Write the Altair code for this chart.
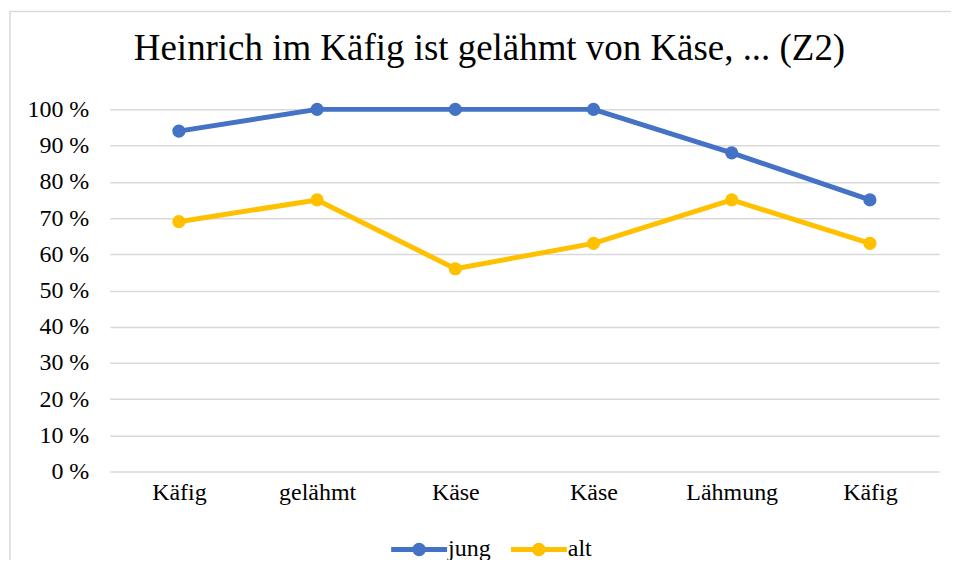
import json
import altair as alt
import pandas as pd

categories = ["Käfig", "gelähmt", "Käse", "Käse", "Lähmung", "Käfig"]
series_names = ["jung", "alt"]
jung = [94, 100, 100, 100, 88, 75]
alt_vals = [69, 75, 56, 63, 75, 63]
y_ticks = [0, 10, 20, 30, 40, 50, 60, 70, 80, 90, 100]
colors = ["#4472C4", "#FFC000"]
title_text = "Heinrich im Käfig ist gelähmt von Käse, ... (Z2)"

rows = []
for name, vals in zip(series_names, [jung, alt_vals]):
    for i, v in enumerate(vals):
        rows.append({"idx": i, "series": name, "value": v})
df = pd.DataFrame(rows)

FONT = "Liberation Serif"
label_expr = json.dumps(categories, ensure_ascii=False) + "[datum.value]"

legend_path = ("M-1,-0.09H1V0.09H-1Z "
               "M0.24,0A0.24,0.24,0,1,1,-0.24,0A0.24,0.24,0,1,1,0.24,0Z")

color = alt.Color(
    "series:N",
    scale=alt.Scale(domain=series_names, range=colors),
    sort=series_names,
    legend=alt.Legend(
        title=None, orient="none", direction="horizontal",
        legendX=282, legendY=413,
        symbolType=legend_path, symbolSize=3136, symbolStrokeWidth=0,
        symbolOpacity=1,
        labelFont=FONT, labelFontSize=24, labelColor="#000000",
        labelOffset=1, columnPadding=20,
    ),
)

x = alt.X(
    "idx:O",
    axis=alt.Axis(title=None, labelAngle=0, labelExpr=label_expr,
                  labelFont=FONT, labelFontSize=24, labelColor="#000000",
                  labelPadding=9, ticks=False, domain=False, grid=False),
)
y = alt.Y(
    "value:Q",
    scale=alt.Scale(domain=[0, 100], nice=False),
    axis=alt.Axis(title=None, values=y_ticks,
                  labelExpr="datum.value + ' %'",
                  labelFont=FONT, labelFontSize=24, labelColor="#000000",
                  labelPadding=21, ticks=False, domain=False,
                  grid=True, gridColor="#D9D9D9", gridWidth=1.5),
)

base = alt.Chart(df)
lines = base.mark_line(strokeWidth=5, strokeCap="round", strokeJoin="round").encode(
    x=x, y=y, color=color, detail="series:N"
)
points = base.mark_point(filled=True, size=175, opacity=1).encode(
    x=x, y=y, color=color
)

frame = alt.Chart(pd.DataFrame({"a": [0]})).mark_rect(
    fillOpacity=0, stroke="#D9D9D9", strokeWidth=1.5
).encode(
    x=alt.value(-100), x2=alt.value(900), y=alt.value(-98), y2=alt.value(520)
)

chart = alt.layer(frame, lines, points).properties(
    width=831, height=363,
    title=alt.TitleParams(title_text, font=FONT, fontSize=37, fontWeight="normal",
                          color="#000000", anchor="middle", frame="group", dx=-35,
                          baseline="alphabetic", offset=-86),
    autosize=alt.AutoSizeParams(type="none"),
    padding={"left": 102, "top": 101, "right": 12, "bottom": 88},
).configure_view(stroke=None)

chart.save("out.html", embed_options={"renderer": "svg", "actions": False})
